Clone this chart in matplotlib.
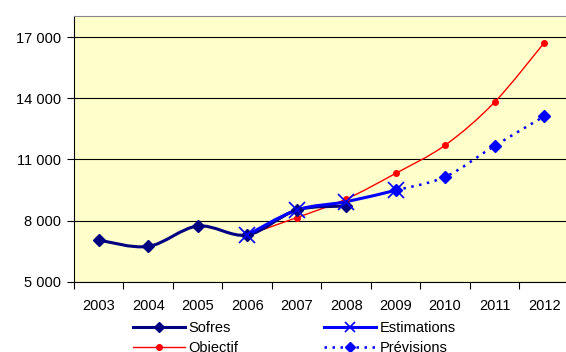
import matplotlib.pyplot as plt
import numpy as np
from matplotlib.lines import Line2D
from matplotlib.patches import PathPatch
from matplotlib.path import Path

plt.rcParams["font.family"] = ["Liberation Sans", "DejaVu Sans"]

years = ["2003", "2004", "2005", "2006", "2007", "2008", "2009", "2010", "2011", "2012"]

sofres_idx = [0, 1, 2, 3, 4, 5]
sofres = [7050, 6740, 7740, 7300, 8520, 8720]

estim_idx = [3, 4, 5, 6]
estimations = [7300, 8520, 8930, 9490]

objectif_idx = [3, 4, 5, 6, 7, 8, 9]
objectif = [7300, 8150, 9060, 10320, 11700, 13810, 16710]

prev_idx = [6, 7, 8, 9]
previsions = [9490, 10150, 11670, 13110]

y_ticks = [5000, 8000, 11000, 14000, 17000]


def smooth_path(xs, ys):
    # cubic Bezier through the points, Catmull-Rom style control points
    pts = np.column_stack([xs, ys]).astype(float)
    ext = np.vstack([pts[0], pts, pts[-1]])
    verts = [pts[0]]
    codes = [Path.MOVETO]
    for i in range(len(pts) - 1):
        p0, p1, p2, p3 = ext[i], ext[i + 1], ext[i + 2], ext[i + 3]
        c1 = p1 + (p2 - p0) / 6.0
        c2 = p2 - (p3 - p1) / 6.0
        verts += [c1, c2, p2]
        codes += [Path.CURVE4] * 3
    return Path(verts, codes)


def draw_series(ax, xs, ys, color, lw, ls, marker, ms, mew=1.0, legend_ms=None):
    patch = PathPatch(smooth_path(xs, ys), facecolor="none", edgecolor=color,
                      lw=lw, linestyle=ls, capstyle="butt", joinstyle="round",
                      zorder=3)
    ax.add_patch(patch)
    ax.plot(xs, ys, linestyle="none", marker=marker, ms=ms, color=color,
            mec=color, mfc=color, mew=mew, zorder=4)
    return Line2D([], [], color=color, lw=lw, linestyle=ls, marker=marker,
                  ms=legend_ms or ms, mec=color, mfc=color, mew=mew)


fig = plt.figure(figsize=(5.66, 3.52), dpi=100)
ax = fig.add_axes([0.1307, 0.199, 0.8743, 0.7555])
ax.set_facecolor("#FFFFCC")

h_obj = draw_series(ax, objectif_idx, objectif, "#FF0000", 1.0, "-", "o", 4)
h_prev = draw_series(ax, prev_idx, previsions, "#0000FF", 1.8, (0, (1, 2.2)), "D", 6, legend_ms=5)
h_sof = draw_series(ax, sofres_idx, sofres, "#000080", 2.2, "-", "D", 6, legend_ms=5)
h_est = draw_series(ax, estim_idx, estimations, "#0000FF", 2.2, "-", "x", 11, mew=1.2, legend_ms=7)

ax.set_xlim(-0.5, len(years) - 0.5)
ax.set_ylim(5000, 18030)
ax.set_xticks(range(len(years)))
ax.set_xticklabels(years)
ax.set_xticks(np.arange(-0.5, len(years), 1.0), minor=True)
ax.tick_params(axis="x", which="major", length=0, pad=12, labelsize=10.5)
ax.tick_params(axis="x", which="minor", length=5, direction="out", width=0.8)
ax.set_yticks(y_ticks)
ax.set_yticklabels([f"{v:,}".replace(",", " ") for v in y_ticks])
ax.tick_params(axis="y", length=5, direction="out", width=0.8, labelsize=10.5, pad=4)

ax.grid(True, axis="y", color="black", lw=0.8)
ax.set_axisbelow(True)
for side in ["right", "top"]:
    ax.spines[side].set_color("#888888")
for side in ["left", "bottom"]:
    ax.spines[side].set_color("black")
    ax.spines[side].set_linewidth(0.8)

# legend fills column-wise: Sofres/Objectif left, Estimations/Prévisions right
fig.legend([h_sof, h_obj, h_est, h_prev],
           ["Sofres", "Objectif", "Estimations", "Prévisions"],
           ncol=2, loc="upper left", bbox_to_anchor=(0.2226, 0.109),
           frameon=False, fontsize=10.5, handlelength=3.56, handletextpad=0.2,
           columnspacing=5.92, labelspacing=0.45, borderpad=0)

fig.savefig("out.png", dpi=100)
